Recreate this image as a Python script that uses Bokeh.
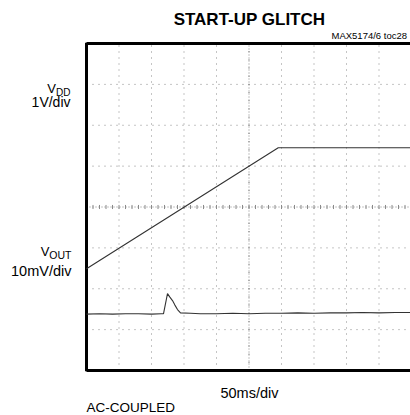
from bokeh.plotting import figure
from bokeh.models import Label, Range1d
from bokeh.embed import file_html
from bokeh.resources import INLINE

# ---- data (time in ms, 50 ms/div; trace position in screen divisions) ----
vdd_t_ms = [0, 295, 500]
vdd_div = [2.49, 5.45, 5.45]

vout_t_ms = [0, 20, 40, 60, 80, 100, 115, 118.5, 124.6, 128, 132.3, 136, 140,
             144.6, 160, 175, 200, 225, 250, 275, 300, 325, 350, 375, 400,
             425, 450, 475, 500]
vout_div = [1.38, 1.39, 1.38, 1.39, 1.39, 1.38, 1.39, 1.39, 1.88, 1.80, 1.71,
            1.60, 1.49, 1.41, 1.40, 1.39, 1.39, 1.40, 1.39, 1.40, 1.40, 1.41,
            1.40, 1.41, 1.41, 1.42, 1.41, 1.42, 1.42]

x_divs = list(range(0, 11))
y_divs = list(range(0, 9))
MS_PER_DIV = 50

# ---- geometry ----
W, H = 410, 415
PX_X0, PX_PER_DIV_X = 86.0, 32.5      # picture px of x=0, px per division
PX_Y0, PX_PER_DIV_Y = 370.0, 40.875   # picture px of y=0, px per division


def px2x(px):
    return (px - PX_X0) / PX_PER_DIV_X * MS_PER_DIV


def px2y(py):
    return (PX_Y0 - py) / PX_PER_DIV_Y


p = figure(width=W, height=H, output_backend="svg", toolbar_location=None,
           x_range=Range1d(px2x(0), px2x(W)),
           y_range=Range1d(px2y(H), px2y(0)),
           x_axis_location=None, y_axis_location=None,
           min_border=0, min_border_left=0, min_border_right=0,
           min_border_top=0, min_border_bottom=0)
p.grid.visible = False
p.outline_line_color = None
p.background_fill_color = "white"
p.border_fill_color = "white"

xmax = 10 * MS_PER_DIV
grid_col = "#8a8a8a"
# dotted graticule
for d in x_divs[1:-1]:
    if d == 5:
        continue
    p.line([d * MS_PER_DIV] * 2, [0, 8], line_color=grid_col, line_width=1,
           line_dash="1 5")
for d in y_divs[1:-1]:
    if d == 4:
        continue
    p.line([0, xmax], [d, d], line_color=grid_col, line_width=1,
           line_dash="1 5")

# centre cross with minor ticks
p.line([5 * MS_PER_DIV] * 2, [0, 8], line_color=grid_col, line_width=1,
       line_dash="1 2")
p.line([0, xmax], [4, 4], line_color=grid_col, line_width=1, line_dash="1 2")
yt = [i / 5 for i in range(1, 40)]
p.segment(x0=[5 * MS_PER_DIV - 1.0] * len(yt), y0=yt,
          x1=[5 * MS_PER_DIV + 1.0] * len(yt), y1=yt,
          line_color=grid_col, line_width=1)
xt = [i / 5 * MS_PER_DIV for i in range(1, 50)]
p.segment(x0=xt, y0=[3.95] * len(xt), x1=xt, y1=[4.05] * len(xt),
          line_color=grid_col, line_width=1)

# frame borders (left, top, bottom)
p.line([0, 0], [-0.02, 8.02], line_color="black", line_width=3)
p.line([0, xmax], [8, 8], line_color="black", line_width=3)
p.line([0, xmax], [0, 0], line_color="black", line_width=3)

# traces
p.line(vdd_t_ms, vdd_div, line_color="#333333", line_width=1.1)
p.line(vout_t_ms, vout_div, line_color="#333333", line_width=1.1)

FONT = "Liberation Sans"


def lab(text, px, py, size, align="left", style="normal"):
    py = py - 0.4 * size
    p.add_layout(Label(x=px2x(px), y=px2y(py), text=text, text_font=FONT,
                       text_font_size=f"{size}px", text_align=align,
                       text_baseline="alphabetic", text_font_style=style,
                       text_color="black"))


lab("START-UP GLITCH", 249, 26, 17, "center", "bold")
lab("MAX5174/6 toc28", 331, 39, 9.5)
lab("V", 55.5, 93, 13, "right")
lab("DD", 70, 96, 10, "right")
lab("1V/div", 70, 107, 14, "right")
lab("V", 49, 256, 13, "right")
lab("OUT", 71, 259, 10.5, "right")
lab("10mV/div", 71, 276, 14.5, "right")
lab("50ms/div", 249, 398, 14.5, "center")
lab("AC-COUPLED", 86, 412, 13.5)

open("out.html", "w").write(file_html(p, INLINE))
